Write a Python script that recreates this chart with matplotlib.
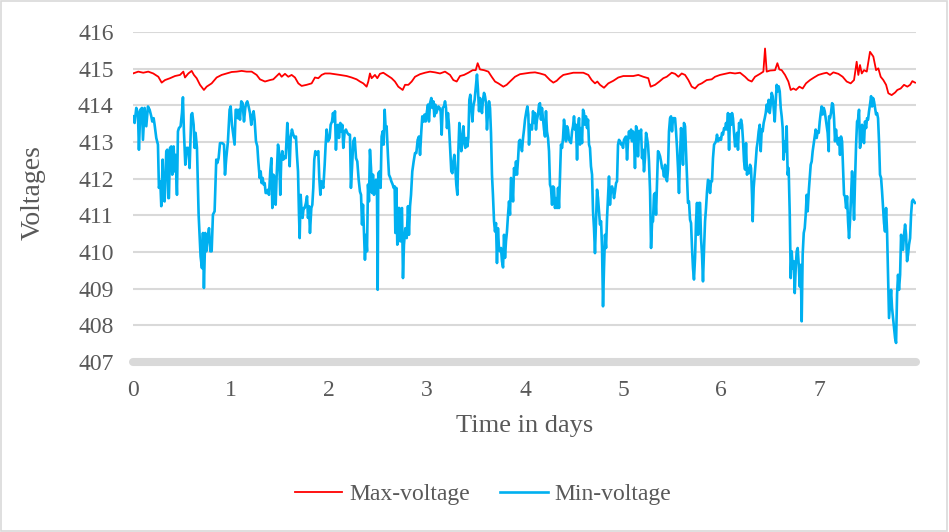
import matplotlib.pyplot as plt
from matplotlib.patches import Rectangle

plt.rcParams['font.family'] = ['Liberation Serif', 'DejaVu Serif']

# Max-voltage series (time in days, volts)
max_days = [
    0.000, 0.054, 0.105, 0.156, 0.207, 0.259, 0.293, 0.327, 0.378, 0.429,
    0.480, 0.514, 0.531, 0.565, 0.599, 0.622, 0.650, 0.684, 0.724, 0.752,
    0.803, 0.854, 0.905, 0.956, 1.007, 1.058, 1.109, 1.160, 1.211, 1.262,
    1.296, 1.347, 1.398, 1.432, 1.466, 1.493, 1.517, 1.551, 1.585, 1.619,
    1.653, 1.687, 1.721, 1.772, 1.823, 1.857, 1.891, 1.925, 1.959, 2.010,
    2.061, 2.112, 2.180, 2.231, 2.282, 2.316, 2.350, 2.384, 2.401, 2.418,
    2.435, 2.469, 2.493, 2.520, 2.554, 2.588, 2.639, 2.673, 2.707,
    2.752, 2.776, 2.810, 2.844, 2.878, 2.929, 2.980, 3.031, 3.082, 3.133,
    3.184, 3.235, 3.269, 3.303, 3.337, 3.378, 3.422, 3.466, 3.497, 3.517,
    3.541, 3.582, 3.626, 3.660, 3.694, 3.728, 3.779, 3.813, 3.847, 3.898,
    3.949, 4.000, 4.051, 4.102, 4.153, 4.204, 4.255, 4.289, 4.323, 4.357,
    4.391, 4.442, 4.493, 4.544, 4.595, 4.646, 4.680, 4.714, 4.738, 4.765,
    4.806, 4.850, 4.901, 4.952, 5.003, 5.054, 5.105, 5.156, 5.207, 5.258,
    5.282, 5.327, 5.371, 5.411,
    5.446, 5.497, 5.531, 5.565, 5.599, 5.633, 5.667, 5.701, 5.735, 5.769,
    5.803, 5.854, 5.905, 5.939, 5.990, 6.041, 6.092, 6.143, 6.194, 6.245,
    6.279, 6.313, 6.347, 6.398, 6.432, 6.449, 6.466, 6.500, 6.551, 6.575,
    6.595, 6.619, 6.653, 6.687, 6.711, 6.738, 6.765, 6.799, 6.833, 6.867,
    6.908, 6.949, 6.993, 7.044, 7.078, 7.112, 7.146, 7.197, 7.241, 7.282,
    7.323, 7.357, 7.384, 7.401, 7.418, 7.436, 7.459, 7.487, 7.520, 7.554,
    7.582, 7.605, 7.629, 7.656, 7.684, 7.707, 7.741, 7.776, 7.799, 7.833,
    7.867, 7.901, 7.929, 7.952, 7.980,
]
max_volts = [
    414.87, 414.92, 414.89, 414.92, 414.87, 414.78, 414.62, 414.69, 414.74, 414.80,
    414.83, 414.92, 414.76, 414.87, 414.94, 414.83, 414.74, 414.56, 414.42, 414.51,
    414.60, 414.76, 414.83, 414.87, 414.91, 414.92, 414.94, 414.92, 414.92, 414.83,
    414.71, 414.65, 414.69, 414.71, 414.80, 414.87, 414.78, 414.86, 414.78, 414.83,
    414.76, 414.60, 414.53, 414.56, 414.60, 414.76, 414.74, 414.83, 414.87, 414.87,
    414.85, 414.83, 414.80, 414.76, 414.71, 414.65, 414.60, 414.51, 414.65, 414.87,
    414.74, 414.83, 414.74, 414.86, 414.89, 414.83, 414.74, 414.65, 414.51,
    414.42, 414.56, 414.56, 414.65, 414.78, 414.85, 414.89, 414.92, 414.90, 414.87,
    414.92, 414.83, 414.69, 414.65, 414.80, 414.83, 414.89, 414.96, 414.96, 415.15,
    414.98, 414.96, 414.92, 414.78, 414.65, 414.60, 414.51, 414.56, 414.65, 414.78,
    414.85, 414.87, 414.89, 414.90, 414.87, 414.83, 414.69, 414.62, 414.67, 414.76,
    414.83, 414.86, 414.89, 414.89, 414.89, 414.83, 414.69, 414.60, 414.65, 414.56,
    414.48, 414.60, 414.67, 414.76, 414.80, 414.80, 414.80, 414.83, 414.78, 414.74,
    414.51, 414.56, 414.65, 414.74,
    414.78, 414.89, 414.86, 414.78, 414.87, 414.83, 414.69, 414.51, 414.46, 414.56,
    414.60, 414.69, 414.71, 414.78, 414.83, 414.86, 414.89, 414.87, 414.89, 414.78,
    414.69, 414.65, 414.78, 414.86, 414.92, 415.55, 414.92, 414.95, 414.96, 415.15,
    414.98, 414.96, 414.83, 414.65, 414.42, 414.46, 414.42, 414.51, 414.46, 414.60,
    414.69, 414.76, 414.83, 414.87, 414.89, 414.83, 414.90, 414.86, 414.78, 414.65,
    414.60, 414.69, 415.19, 414.83, 415.10, 414.87, 414.96, 414.92, 415.46, 415.33,
    414.96, 415.01, 414.78, 414.69, 414.56, 414.33, 414.28, 414.35, 414.42, 414.46,
    414.56, 414.51, 414.56, 414.66, 414.62,
]

# Min-voltage series (time in days, volts)
min_days = [
    0.000, 0.017, 0.034, 0.051, 0.061, 0.075, 0.092, 0.102, 0.119, 0.136,
    0.153, 0.170, 0.187, 0.197, 0.211, 0.221, 0.238, 0.255, 0.265, 0.279,
    0.289, 0.303, 0.313, 0.323, 0.340, 0.350, 0.361, 0.367, 0.378, 0.391,
    0.401, 0.415, 0.425, 0.435, 0.449, 0.459, 0.469, 0.486, 0.500, 0.510,
    0.520, 0.534, 0.548, 0.565, 0.578, 0.595, 0.605, 0.619, 0.629, 0.639,
    0.653, 0.670, 0.690, 0.704, 0.714, 0.724, 0.738, 0.748, 0.762, 0.776,
    0.789, 0.803, 0.816, 0.833, 0.850, 0.861, 0.874, 0.888, 0.912, 0.929,
    0.939, 0.952, 0.969, 0.986,
    0.997, 1.010, 1.024, 1.037, 1.048, 1.061, 1.071, 1.082, 1.092, 1.105,
    1.119, 1.133, 1.146, 1.156, 1.167, 1.180, 1.194, 1.207, 1.218, 1.231,
    1.241, 1.255, 1.269, 1.279, 1.293, 1.303, 1.313, 1.323, 1.333, 1.344,
    1.354, 1.367, 1.378, 1.388, 1.401, 1.412, 1.422, 1.432, 1.442, 1.456,
    1.466, 1.480, 1.490, 1.503, 1.514, 1.524, 1.534, 1.548, 1.558, 1.575,
    1.585, 1.599, 1.609, 1.622, 1.636, 1.650, 1.663, 1.673, 1.684, 1.694,
    1.701, 1.711, 1.721, 1.731, 1.741, 1.752, 1.765, 1.776, 1.786, 1.796,
    1.806, 1.820, 1.830, 1.840, 1.850, 1.861, 1.871, 1.881, 1.891, 1.901,
    1.912, 1.922, 1.932, 1.942, 1.956, 1.966, 1.976, 1.990,
    2.007, 2.017, 2.031, 2.041, 2.051, 2.061, 2.071, 2.082, 2.092, 2.102,
    2.116, 2.126, 2.136, 2.146, 2.160, 2.173, 2.187, 2.201, 2.214, 2.224,
    2.235, 2.248, 2.262, 2.276, 2.289, 2.303, 2.316, 2.327, 2.337, 2.347,
    2.357, 2.367, 2.378, 2.388, 2.398, 2.408, 2.418, 2.429, 2.439, 2.449,
    2.459, 2.469, 2.480, 2.490, 2.497, 2.503, 2.517, 2.527, 2.537, 2.548,
    2.558, 2.568, 2.578, 2.588, 2.602, 2.612, 2.626, 2.636, 2.650, 2.660,
    2.670, 2.677, 2.687, 2.697, 2.707, 2.718, 2.728, 2.738, 2.745, 2.755,
    2.765, 2.779, 2.793, 2.806, 2.816, 2.827, 2.837, 2.850, 2.864, 2.878,
    2.891, 2.905, 2.918, 2.929, 2.942, 2.952, 2.966, 2.976, 2.986, 2.997,
    3.010,
    3.020, 3.031, 3.044, 3.054, 3.065, 3.075, 3.085, 3.095, 3.105, 3.116,
    3.129, 3.139, 3.150, 3.160, 3.173, 3.184, 3.194, 3.204, 3.214, 3.224,
    3.238, 3.248, 3.259, 3.269, 3.279, 3.289, 3.299, 3.310, 3.320, 3.330,
    3.340, 3.350, 3.361, 3.371, 3.381, 3.391, 3.401, 3.412, 3.422, 3.432,
    3.442, 3.452, 3.463, 3.473, 3.486, 3.500, 3.510, 3.520, 3.531, 3.541,
    3.551, 3.561, 3.571, 3.582, 3.592, 3.602, 3.612, 3.622, 3.633, 3.643,
    3.653, 3.663, 3.673, 3.684, 3.694, 3.704, 3.714, 3.724, 3.735, 3.745,
    3.755, 3.765, 3.776, 3.786, 3.796, 3.806, 3.816, 3.827, 3.837, 3.847,
    3.857, 3.867, 3.878, 3.888, 3.898, 3.908, 3.918, 3.929, 3.939, 3.949,
    3.959, 3.969, 3.980, 3.990, 4.000, 4.014, 4.024, 4.034,
    4.041, 4.051, 4.061, 4.071, 4.082, 4.092, 4.102, 4.112, 4.122, 4.133,
    4.143, 4.153, 4.163, 4.173, 4.184, 4.194, 4.204, 4.214, 4.224, 4.235,
    4.245, 4.255, 4.265, 4.276, 4.286, 4.296, 4.306, 4.316, 4.327, 4.337,
    4.347, 4.357, 4.367, 4.378, 4.388, 4.398, 4.408, 4.418, 4.429, 4.439,
    4.449, 4.459, 4.469, 4.480, 4.490, 4.500, 4.510, 4.520, 4.531, 4.541,
    4.551, 4.561, 4.571, 4.582, 4.592, 4.602, 4.612, 4.622, 4.633, 4.643,
    4.653, 4.663, 4.673, 4.684, 4.694, 4.704, 4.714, 4.724, 4.735, 4.745,
    4.755, 4.765, 4.776, 4.786, 4.796, 4.806, 4.816, 4.827, 4.837, 4.847,
    4.857, 4.867, 4.878, 4.888, 4.898, 4.908, 4.918, 4.929, 4.939, 4.949,
    4.959, 4.969, 4.980, 4.990, 5.000, 5.010, 5.020, 5.031, 5.041, 5.051,
    5.061, 5.071, 5.082, 5.092, 5.102, 5.112, 5.122, 5.133, 5.143, 5.153,
    5.163, 5.173, 5.184, 5.194, 5.204, 5.214, 5.224, 5.235, 5.245, 5.255,
    5.265, 5.276, 5.286, 5.296, 5.306, 5.316, 5.327, 5.337, 5.347, 5.357,
    5.367, 5.378, 5.388, 5.398, 5.408, 5.418, 5.429, 5.439, 5.449, 5.459,
    5.469, 5.480, 5.490, 5.500, 5.510, 5.520, 5.531, 5.541, 5.551, 5.561,
    5.571, 5.582, 5.592, 5.602, 5.612, 5.622, 5.633, 5.643, 5.653, 5.663,
    5.673, 5.684, 5.694, 5.704, 5.714, 5.724, 5.735, 5.745, 5.755, 5.765,
    5.776, 5.786, 5.796, 5.806, 5.816, 5.827, 5.837, 5.847, 5.857, 5.867,
    5.878, 5.888, 5.898, 5.908, 5.918, 5.929, 5.939, 5.949, 5.959, 5.969,
    5.980, 5.990, 6.000, 6.010, 6.020, 6.031, 6.041, 6.051, 6.061, 6.071,
    6.082,
    6.092, 6.102, 6.112, 6.122, 6.133, 6.143, 6.153, 6.163, 6.173, 6.184,
    6.194, 6.204, 6.214, 6.224, 6.235, 6.245, 6.255, 6.265, 6.276, 6.286,
    6.296, 6.306, 6.316, 6.323, 6.333, 6.344, 6.354, 6.364, 6.374, 6.384,
    6.395, 6.405, 6.415, 6.425, 6.435, 6.446, 6.456, 6.466, 6.476, 6.486,
    6.497, 6.507, 6.517, 6.527, 6.537, 6.548, 6.558, 6.568, 6.578, 6.588,
    6.599, 6.609, 6.619, 6.629, 6.639, 6.650, 6.660, 6.670, 6.680, 6.690,
    6.701, 6.711, 6.721, 6.731, 6.742, 6.752, 6.762, 6.772, 6.782, 6.793,
    6.803, 6.813, 6.823, 6.833, 6.844, 6.854, 6.864, 6.874, 6.884, 6.895,
    6.905, 6.915, 6.925, 6.935, 6.946, 6.956, 6.966, 6.976, 6.986, 6.997,
    7.007, 7.017, 7.027, 7.037, 7.048, 7.058, 7.068, 7.078, 7.088, 7.099,
    7.102, 7.112, 7.122, 7.133, 7.143, 7.153, 7.163, 7.173, 7.184, 7.194,
    7.204, 7.214, 7.224, 7.235, 7.245, 7.255, 7.265, 7.276, 7.286, 7.296,
    7.306, 7.316, 7.327, 7.337, 7.347, 7.357, 7.367, 7.378, 7.388, 7.398,
    7.408, 7.418, 7.429, 7.439, 7.449, 7.459, 7.469, 7.480, 7.490, 7.500,
    7.510, 7.520, 7.531, 7.541, 7.551, 7.561, 7.571, 7.582, 7.592, 7.602,
    7.612, 7.622, 7.633, 7.643, 7.653, 7.663, 7.673, 7.684, 7.694, 7.704,
    7.714, 7.724, 7.735, 7.745, 7.755, 7.765, 7.776, 7.786, 7.796, 7.806,
    7.816, 7.827, 7.837, 7.847, 7.857, 7.867, 7.878, 7.888, 7.898, 7.908,
    7.918, 7.929, 7.939, 7.949, 7.959, 7.969, 7.980,
]
min_volts = [
    413.70, 413.52, 413.93, 413.79, 412.79, 413.88, 413.93, 413.06, 413.93, 413.43,
    413.97, 413.88, 413.70, 413.56, 413.65, 413.47, 413.11, 412.93, 411.75, 411.93,
    411.25, 412.52, 411.43, 411.38, 412.75, 412.79, 411.47, 411.47, 412.84, 412.88,
    412.11, 412.88, 412.20, 412.65, 411.56, 413.29, 413.38, 413.43, 413.79, 414.22,
    413.29, 412.38, 412.84, 412.84, 412.29, 413.75, 413.79, 413.47, 412.84, 413.25,
    412.84, 411.02, 409.88, 409.56, 410.52, 409.02, 410.52, 410.02, 410.38, 410.65,
    410.02, 410.02, 411.02, 411.11, 412.52, 412.43, 412.56, 412.97, 412.97, 412.93,
    412.11, 412.56, 413.02, 413.88,
    413.97, 413.47, 413.20, 412.93, 413.88, 413.88, 413.65, 413.88, 413.61, 414.11,
    414.06, 413.56, 413.93, 414.06, 414.11, 413.97, 413.79, 413.47, 413.70, 413.84,
    413.61, 413.02, 412.88, 412.47, 412.02, 412.20, 411.88, 412.02, 411.84, 411.88,
    411.61, 411.61, 411.70, 411.56, 412.20, 412.56, 411.20, 412.11, 412.06, 411.29,
    412.06, 412.93, 412.75, 411.56, 412.61, 412.75, 412.52, 412.61, 412.56, 413.52,
    413.11, 412.34, 413.11, 413.34, 413.20, 413.11, 413.15, 412.65, 412.20, 411.02,
    410.38, 411.56, 411.11, 410.93, 411.20, 411.20, 411.34, 411.52, 410.93, 411.25,
    410.52, 411.20, 411.29, 411.75, 412.52, 412.75, 412.65, 412.70, 412.75, 412.02,
    411.56, 411.93, 411.84, 411.75, 412.38, 412.93, 413.34, 413.02,
    413.11, 413.47, 413.56, 413.79, 413.56, 413.84, 412.79, 413.43, 413.47, 413.11,
    413.52, 413.29, 413.47, 412.84, 413.29, 413.34, 413.25, 413.20, 413.20, 411.75,
    412.29, 413.02, 413.11, 412.56, 412.47, 411.97, 411.65, 411.56, 410.75, 411.29,
    410.52, 409.79, 410.47, 410.02, 411.84, 411.38, 412.79, 412.29, 411.61, 412.11,
    411.56, 411.84, 411.97, 411.56, 408.97, 412.15, 412.20, 411.75, 413.15, 413.29,
    412.93, 413.88, 413.38, 413.43, 412.61, 412.11, 412.02, 411.93, 411.84, 411.75,
    411.79, 410.52, 411.75, 410.20, 411.20, 411.20, 410.29, 411.15, 411.20, 409.29,
    410.20, 410.65, 410.38, 411.25, 410.47, 411.25, 411.56, 412.20, 412.47, 412.70,
    412.70, 413.06, 413.15, 412.65, 413.29, 413.70, 413.56, 413.75, 413.56, 413.79,
    414.02,
    413.56, 414.06, 414.20, 413.93, 414.11, 413.70, 414.02, 413.79, 413.88, 413.97,
    413.93, 413.84, 413.20, 413.93, 413.97, 414.11, 413.93, 413.38, 413.79, 413.47,
    412.75, 412.20, 412.15, 412.47, 412.65, 412.29, 411.84, 411.56, 412.75, 413.52,
    413.20, 412.75, 413.02, 413.43, 413.02, 412.84, 413.11, 412.88, 413.11, 414.15,
    414.29, 413.97, 413.56, 413.97, 414.15, 414.56, 414.84, 414.43, 413.84, 414.20,
    414.02, 413.79, 414.15, 414.34, 414.25, 414.06, 413.34, 413.79, 414.11, 413.93,
    413.25, 412.11, 411.56, 410.84, 410.56, 410.79, 409.70, 410.65, 410.06, 410.02,
    410.11, 409.75, 409.58, 410.47, 409.84, 410.29, 410.56, 411.02, 411.38, 411.02,
    412.02, 411.93, 411.38, 412.29, 412.11, 412.47, 412.11, 412.52, 413.02, 413.06,
    412.93, 412.75, 413.11, 413.34, 413.61, 413.84, 413.97, 413.75,
    412.93, 413.47, 413.43, 413.34, 413.84, 413.52, 413.79, 413.34, 413.61, 413.75,
    414.02, 414.06, 413.61, 413.93, 413.61, 413.34, 413.15, 413.84, 413.29, 413.11,
    412.75, 411.84, 411.75, 411.29, 411.79, 411.75, 411.20, 411.47, 411.20, 411.75,
    411.20, 412.11, 412.93, 412.84, 413.11, 413.61, 413.34, 413.02, 413.43, 413.34,
    413.06, 413.02, 412.97, 413.29, 413.43, 413.70, 413.34, 413.47, 412.52, 413.38,
    413.65, 412.93, 413.38, 412.97, 413.88, 413.79, 413.47, 413.70, 413.38, 413.61,
    412.93, 412.84, 412.34, 412.11, 411.11, 410.65, 409.97, 410.84, 411.70, 411.47,
    411.11, 410.75, 410.84, 410.11, 408.52, 409.56, 410.47, 410.11, 410.93, 411.47,
    412.06, 411.29, 411.75, 411.79, 411.70, 411.47, 411.65, 411.88, 411.93, 412.93,
    413.06, 413.02, 412.93, 412.97, 412.84, 413.06, 413.11, 413.15, 412.52, 413.02,
    413.29, 413.11, 413.34, 413.02, 413.29, 413.11, 412.29, 413.43, 413.34, 412.61,
    413.29, 413.11, 413.34, 412.56, 412.79, 412.20, 412.56, 413.25, 413.11, 412.93,
    412.47, 411.65, 410.11, 410.79, 410.84, 411.56, 411.61, 411.02, 411.93, 412.75,
    412.70, 412.61, 412.47, 412.29, 412.25, 412.06, 412.38, 412.02, 411.93, 412.25,
    413.29, 413.65, 413.70, 413.29, 413.65, 413.65, 413.65, 413.29, 412.84, 412.29,
    411.61, 412.65, 413.38, 413.02, 412.38, 413.52, 413.43, 412.75, 412.11, 411.34,
    411.38, 410.88, 410.79, 410.11, 409.56, 409.25, 409.84, 410.84, 411.34, 410.47,
    411.34, 411.34, 410.38, 409.93, 409.20, 410.11, 410.84, 411.20, 411.65, 411.97,
    411.93, 411.61, 411.93, 411.93, 412.56, 412.93, 412.97, 413.02, 413.20, 413.02,
    413.06, 413.11, 413.06, 413.25, 413.20, 413.38, 413.34, 413.52, 413.34, 413.79,
    412.79,
    413.75, 413.47, 413.79, 413.65, 413.25, 412.88, 413.06, 413.25, 412.79, 413.52,
    413.38, 413.61, 413.47, 413.06, 412.47, 412.25, 412.97, 412.11, 412.29, 412.15,
    412.38, 412.29, 411.56, 410.84, 411.75, 412.11, 412.47, 412.84, 413.02, 413.29,
    413.47, 412.75, 413.34, 413.29, 413.52, 413.65, 413.79, 414.02, 413.84, 414.15,
    413.79, 414.02, 414.34, 414.25, 413.93, 413.56, 414.11, 414.56, 414.38, 414.52,
    414.38, 413.93, 413.70, 413.38, 412.52, 413.02, 412.75, 413.43, 412.11, 412.29,
    411.06, 409.29, 410.02, 409.56, 409.75, 408.88, 409.56, 410.02, 410.11, 409.65,
    409.06, 409.65, 408.11, 409.93, 410.52, 410.65, 411.02, 411.56, 411.11, 411.65,
    412.02, 412.38, 412.47, 412.75, 412.97, 413.15, 413.34, 413.11, 413.29, 413.25,
    413.56, 413.79, 413.97, 413.75, 413.93, 413.84, 413.65, 413.47, 413.25, 412.75,
    413.70, 413.65, 413.79, 414.06, 414.02, 413.65, 413.02, 413.34, 413.02, 412.93,
    413.11, 412.65, 413.15, 413.02, 412.29, 411.56, 411.52, 411.20, 411.52, 410.84,
    410.38, 410.84, 411.56, 412.20, 411.65, 410.88, 411.93, 412.93, 413.56, 413.61,
    413.88, 412.84, 413.02, 413.47, 413.15, 412.97, 413.56, 413.38, 413.65, 413.61,
    413.84, 414.02, 414.25, 413.97, 414.20, 414.11, 413.93, 413.75, 413.79, 413.65,
    413.02, 412.11, 412.02, 411.65, 411.20, 410.79, 410.56, 411.20, 410.56, 409.38,
    408.20, 408.56, 408.97, 408.47, 408.20, 407.93, 407.65, 407.52, 408.84, 409.38,
    408.97, 409.38, 410.47, 410.11, 410.06, 410.47, 410.75, 410.47, 409.75, 409.93,
    410.20, 410.38, 411.02, 411.38, 411.43, 411.38, 411.34,
]

y_ticks = list(range(407, 417))
x_ticks = list(range(0, 8))

text_color = '#595959'
grid_color = '#D9D9D9'

fig = plt.figure(figsize=(9.49, 5.32), dpi=100)
ax = fig.add_axes([0.1401, 0.3195, 0.8252, 0.6203])

ax.plot(max_days, max_volts, color='#FF0000', lw=1.3, label='Max-voltage', zorder=3)
ax.plot(min_days, min_volts, color='#00B0F0', lw=1.9, label='Min-voltage', zorder=3)

ax.set_xlim(0, 7.99)
ax.set_ylim(407, 416)
ax.set_yticks(y_ticks)
ax.set_xticks(x_ticks)
ax.grid(axis='y', color=grid_color, lw=1.5)
ax.grid(axis='x', visible=False)
ax.set_axisbelow(True)
for s in ax.spines.values():
    s.set_visible(False)

# thick grey category axis line at the bottom
ax.axhline(407, color=grid_color, lw=5.8, solid_capstyle='round', clip_on=False, zorder=2)

ax.tick_params(axis='both', length=0, labelsize=17, labelcolor=text_color)
ax.tick_params(axis='y', pad=14)
ax.tick_params(axis='x', pad=13)

ax.set_xlabel('Time in days', fontsize=19, color=text_color, va='center')
ax.xaxis.set_label_coords(0.5, -0.194)
ax.set_ylabel('Voltages', fontsize=20, color=text_color, va='center')
ax.yaxis.set_label_coords(-0.128, 0.515)

fig.legend(loc='center', bbox_to_anchor=(0.509, 0.0714), ncol=2, frameon=False,
           fontsize=17, labelcolor=text_color, handlelength=2.0,
           handletextpad=0.3, columnspacing=1.3)

fig.add_artist(Rectangle((0.001, 0.002), 0.997, 0.996, transform=fig.transFigure,
                         fill=False, edgecolor=grid_color, lw=1.2))

fig.savefig('out.png', dpi=100)
